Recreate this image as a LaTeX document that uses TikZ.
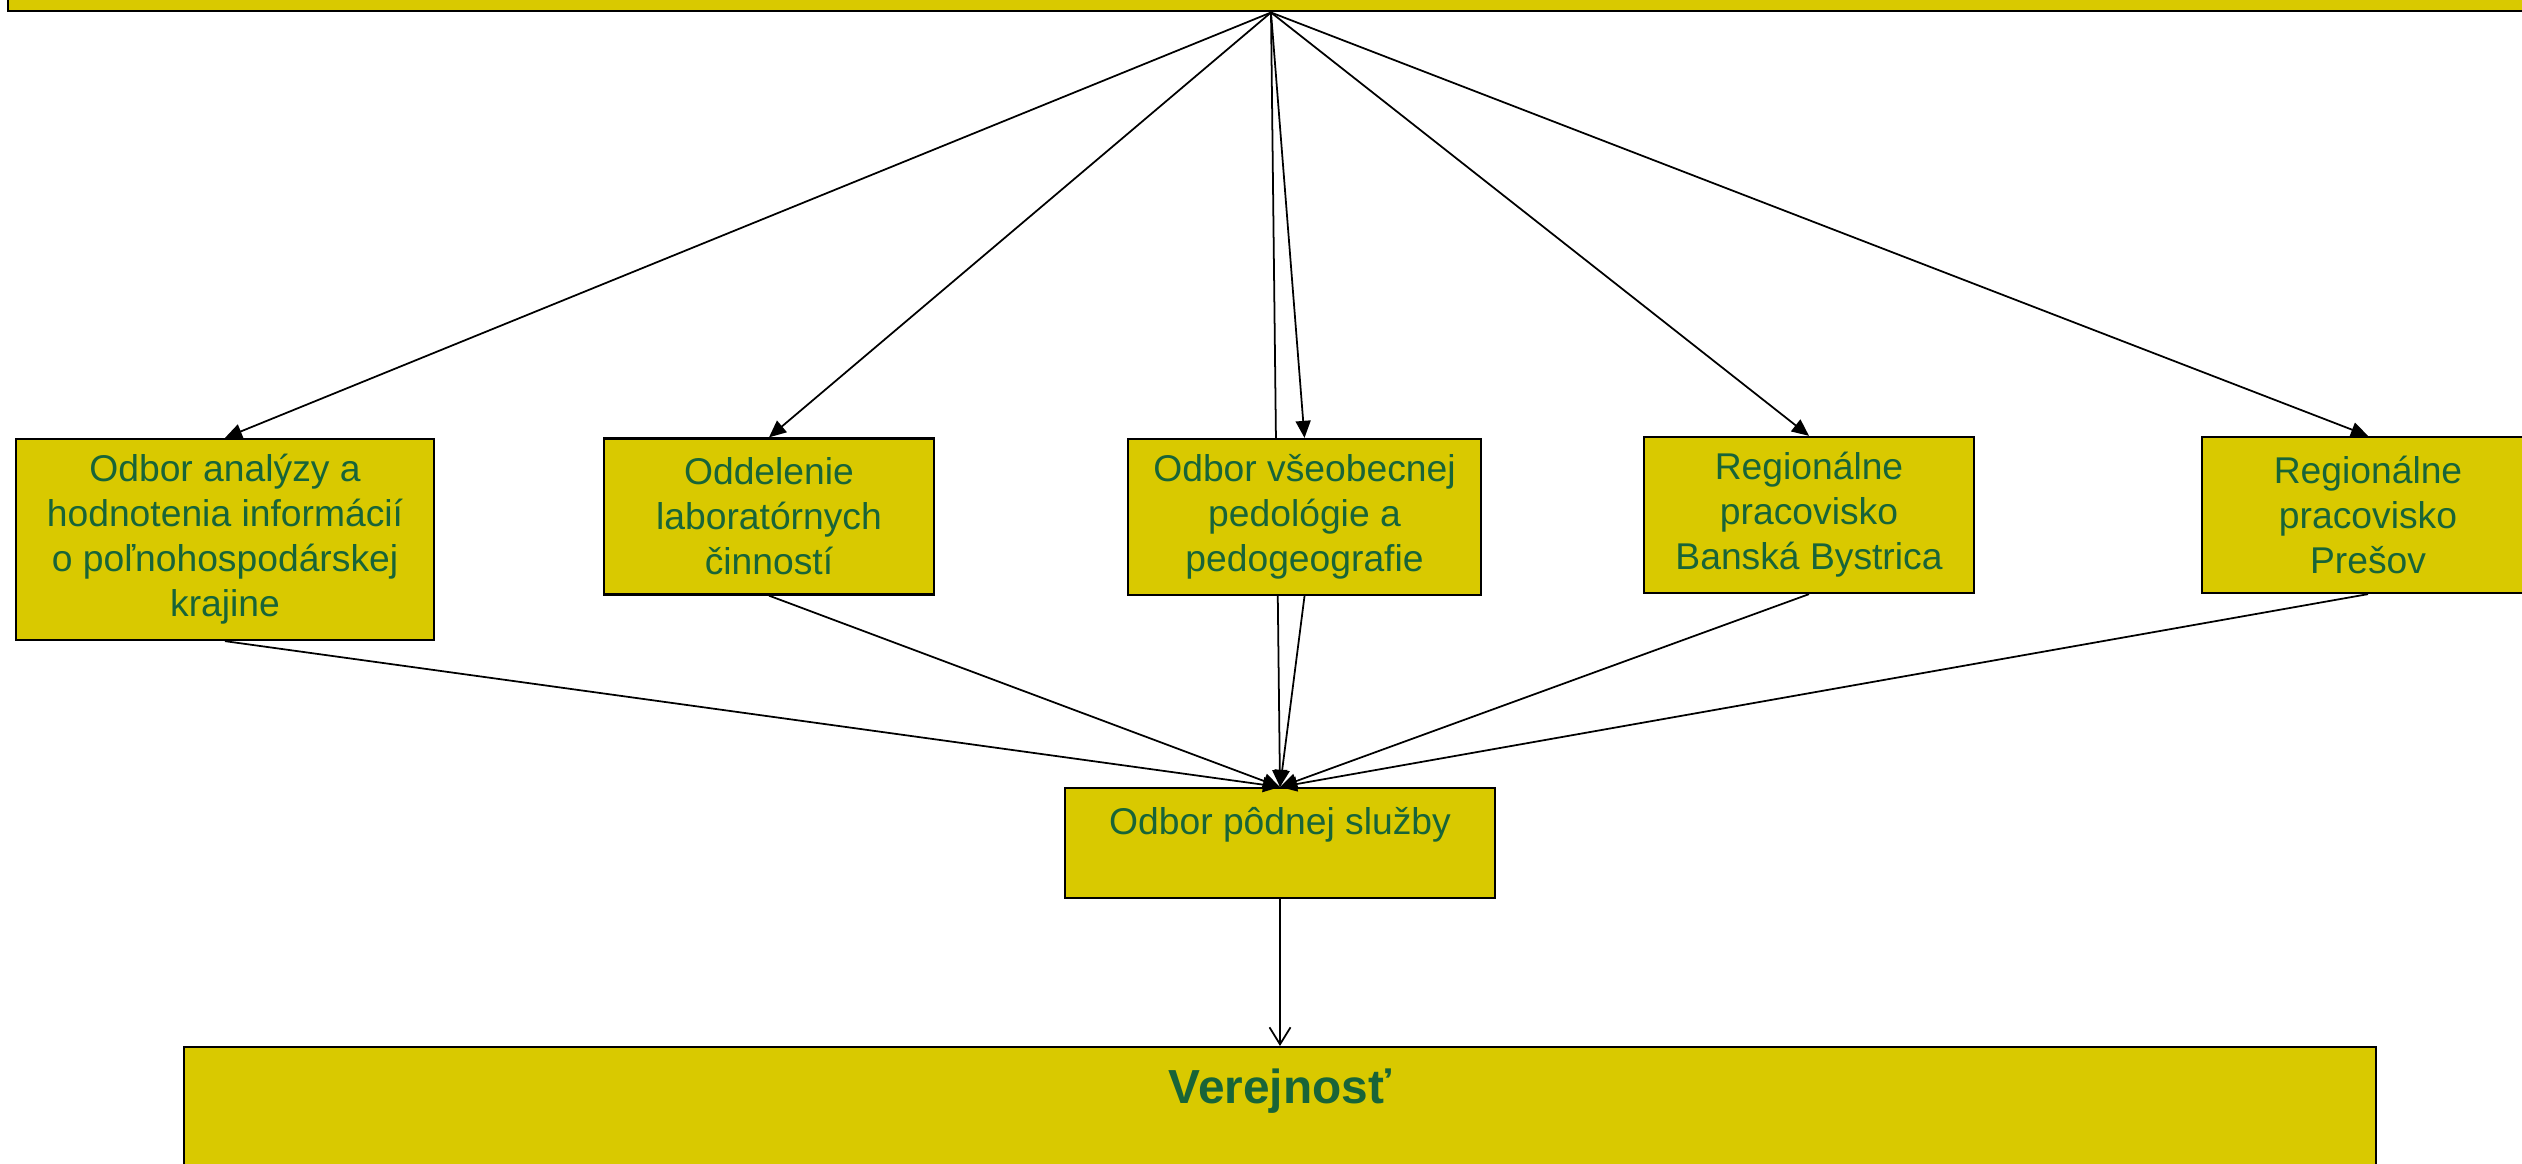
\documentclass[tikz,border=0pt]{standalone}
\usepackage{fontspec}
\setmainfont{Liberation Sans}
\usetikzlibrary{arrows.meta,backgrounds}
\definecolor{boxfill}{RGB}{217,201,0}
\definecolor{boxtext}{RGB}{24,100,56}
\tikzstyle{unit}=[rectangle,draw=black,line width=0.65pt,fill=boxfill,text=boxtext,align=center,inner sep=0pt,font=\fontsize{10.6}{12.8}\selectfont]
\tikzstyle{edge} = [draw,line width=0.5pt,-{Triangle[length=0.17cm,width=0.15cm]}]
\tikzstyle{openedge} = [draw,line width=0.5pt,-{Straight Barb[length=0.17cm,width=0.21cm]}]

\begin{document}
\begin{tikzpicture}
  \useasboundingbox (0,0) rectangle (25.22,-11.64);

  % head unit, cut by the page
  \node[unit,anchor=south west,minimum width=25.6cm,minimum height=1.5cm] (head) at (0.07,-0.125) {};
  \coordinate (apex) at (12.71,-0.125);

%layer 1
  \def\h{1.56}
  \node[unit,minimum width=4.18cm,minimum height=2.01cm] (analysis) at (2.25,-5.395) {Odbor analýzy a\\hodnotenia informácií\\o poľnohospodárskej\\krajine};
  \foreach \pos/\name/\w/\txt in {{(7.69,-5.165)/lab/3.30/{Oddelenie\\laboratórnych\\činností}},
      {(13.045,-5.17)/pedology/3.53/{Odbor všeobecnej\\pedológie a\\pedogeografie}},
      {(18.09,-5.15)/bystrica/3.30/{Regionálne\\pracovisko\\Banská Bystrica}},
      {(23.68,-5.15)/presov/3.32/{Regionálne\\pracovisko\\Prešov}}}
    \node[unit,minimum width=\w cm,minimum height=\h cm] (\name) at \pos {\txt};

%layer 2
  \node[unit,anchor=north,minimum width=4.30cm,inner ysep=0.19cm,text height=0.27cm,text depth=0.45cm] (service) at (12.80,-7.87) {Odbor pôdnej služby};

%layer 3
  \node[unit,anchor=north,minimum width=21.92cm,inner ysep=0.21cm,text height=0.35cm,text depth=1.5cm,font=\fontsize{13.6}{16}\selectfont\bfseries] (public) at (12.80,-10.46) {Verejnosť};

  % Connect units
  \foreach \dest in {analysis,lab,pedology,bystrica,presov}
    \path[edge] (apex) -- (\dest.north);
  \begin{scope}[on background layer]
    \path[edge] (apex) -- (service.north);
  \end{scope}
  \foreach \source in {analysis,lab,pedology,bystrica,presov}
    \path[edge] (\source.south) -- (service.north);
  \path[openedge] (service.south) -- (public.north);

\end{tikzpicture}
\end{document}
